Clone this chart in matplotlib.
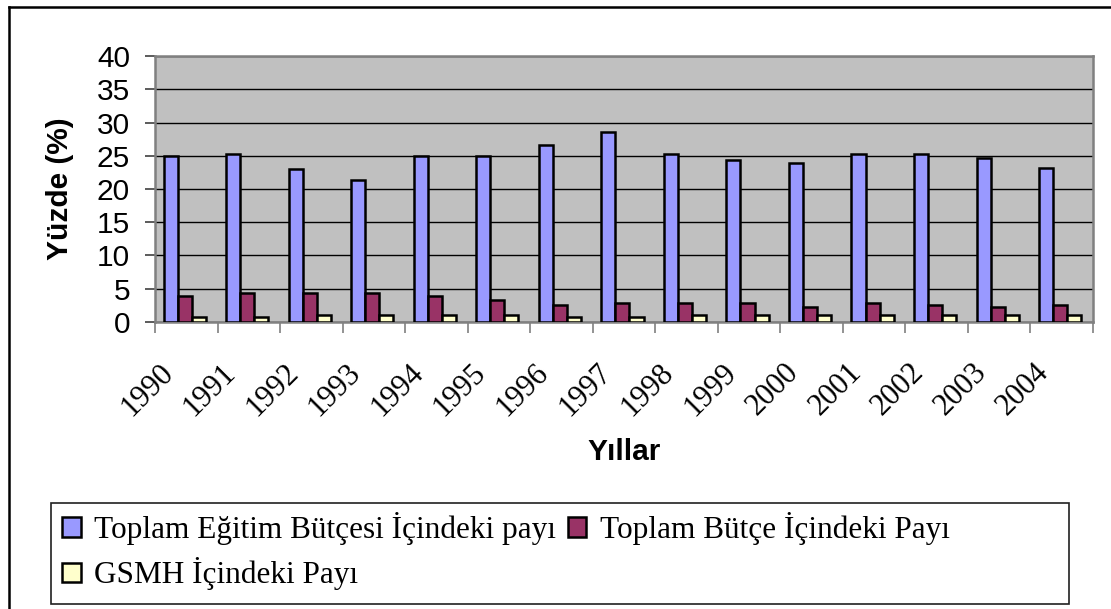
#!/usr/bin/env python3
"""Eğitim bütçesi payları, 1990-2004."""

import numpy as np
import matplotlib
matplotlib.use('Agg')
import matplotlib.pyplot as plt
import matplotlib.transforms as mtransforms
from matplotlib.lines import Line2D
from matplotlib.patches import Rectangle

years = ['1990', '1991', '1992', '1993', '1994', '1995', '1996', '1997',
         '1998', '1999', '2000', '2001', '2002', '2003', '2004']
egitim_payi = [24.9, 25.2, 23.0, 21.3, 24.9, 24.9, 26.6, 28.5,
               25.2, 24.3, 23.9, 25.2, 25.2, 24.6, 23.2]
butce_payi = [3.9, 4.3, 4.3, 4.3, 3.9, 3.3, 2.6, 2.9,
              2.9, 2.9, 2.3, 2.9, 2.6, 2.3, 2.6]
gsmh_payi = [0.7, 0.7, 1.0, 1.0, 1.0, 1.0, 0.7, 0.7,
             1.0, 1.0, 1.0, 1.0, 1.0, 1.0, 1.0]
series_labels = ['Toplam Eğitim Bütçesi İçindeki payı',
                 'Toplam Bütçe İçindeki Payı',
                 'GSMH İçindeki Payı']
colors = ['#9999FF', '#993366', '#FFFFCC']

SANS = 'Liberation Sans'
SERIF = 'Liberation Serif'

fig = plt.figure(figsize=(11.11, 6.09), dpi=100)
ax = fig.add_axes([0.1395, 0.4713, 0.9838 - 0.1395, 0.908 - 0.4713])
ax.set_facecolor('#C0C0C0')

x = np.arange(len(years))
w = 0.225
offsets = [-w - 0.025, -0.025, w - 0.025]
for vals, off, col, lab in zip([egitim_payi, butce_payi, gsmh_payi], offsets, colors, series_labels):
    ax.bar(x + off, vals, width=w, color=col, edgecolor='black', linewidth=1.8,
           label=lab, zorder=3)

ax.set_xlim(-0.5, len(years) - 0.5)
ax.set_ylim(0, 40)
ax.set_yticks(range(0, 41, 5))
ax.yaxis.grid(True, color='black', linewidth=1.0, zorder=1)
ax.set_axisbelow(True)

for s in ax.spines.values():
    s.set_color('#808080')
    s.set_linewidth(1.8)

ax.tick_params(axis='y', length=7, width=1.2, color='#404040', pad=11, labelsize=21.5)
for t in ax.get_yticklabels():
    t.set_fontfamily(SANS)

# year labels at category centres, tick marks at the boundaries
ax.set_xticks(x)
ax.set_xticklabels(years, rotation=45, ha='right', va='top', fontsize=22, fontfamily=SERIF)
ax.tick_params(axis='x', which='major', length=0, pad=0)
ax.set_xticks(np.arange(-0.5, len(years), 1.0), minor=True)
ax.tick_params(axis='x', which='minor', length=8, width=1.2, color='#808080')
shift = mtransforms.ScaledTranslation(-0.07, -0.36, fig.dpi_scale_trans)
for t in ax.get_xticklabels():
    t.set_transform(t.get_transform() + shift)

fig.text(0.054, 0.69, 'Yüzde (%)', rotation=90, ha='center', va='center',
         fontsize=21.5, fontweight='bold', fontfamily=SANS)
fig.text(0.5617, 1 - 452 / 609, 'Yıllar', ha='center', va='center',
         fontsize=21.5, fontweight='bold', fontfamily=SANS)

# legend: frame drawn separately, items row-wise
h, l = ax.get_legend_handles_labels()
order = [0, 2, 1]
fig.legend([h[i] for i in order], [l[i] for i in order], ncol=2,
           loc='upper left', bbox_to_anchor=(62 / 1111, 1 - 512 / 609),
           frameon=False, borderpad=0, borderaxespad=0,
           handlelength=0.6, handleheight=0.6, handletextpad=0.42,
           columnspacing=0.38, labelspacing=0.4,
           prop={'family': SERIF, 'size': 22.5})
fig.add_artist(Rectangle((51 / 1111, 1 - 604 / 609), 1018 / 1111, 101 / 609,
                         transform=fig.transFigure, fill=False,
                         edgecolor='#202020', linewidth=1.2))

# outer chart border (top and left visible)
fig.add_artist(Line2D([9 / 1111, 9 / 1111], [0, 1 - 7 / 609], transform=fig.transFigure,
                      color='black', linewidth=1.8))
fig.add_artist(Line2D([9 / 1111, 1], [1 - 7 / 609, 1 - 7 / 609], transform=fig.transFigure,
                      color='black', linewidth=1.8))

fig.savefig('out.png', dpi=100)
